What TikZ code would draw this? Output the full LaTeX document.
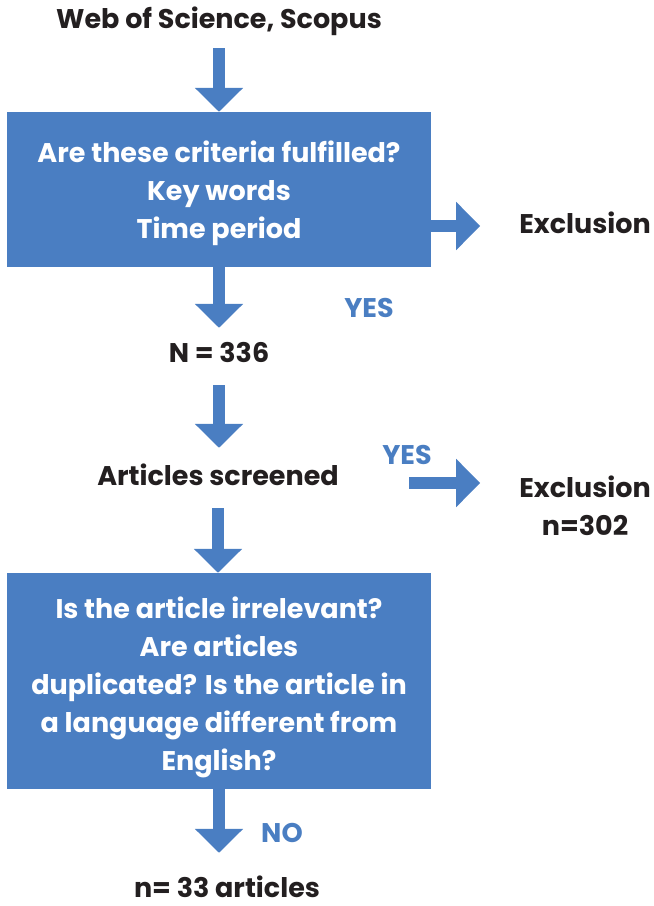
\documentclass[tikz,border=0pt]{standalone}
\usepackage{fontspec}
\setmainfont{Poppins}
\usetikzlibrary{arrows.meta}

\definecolor{flowblue}{HTML}{4A7EC2}
\definecolor{ink}{HTML}{231F20}

\tikzset{
  lbl/.style={font=\fontsize{27}{38}\selectfont\bfseries, text=ink, inner sep=0pt,
    text height=20pt, text depth=6pt, align=center},
  answer/.style={lbl, text=flowblue},
  critbox/.style={fill=flowblue, text=white, font=\fontsize{27}{38}\selectfont\bfseries,
    minimum width=424pt, inner sep=0pt, align=center},
  blockarrow/.style={draw=flowblue, line width=12pt,
    -{Triangle[length=24pt, width=47pt]}},
}

\begin{document}
\begin{tikzpicture}[x=1pt, y=-1pt]
      \useasboundingbox (0, 0) rectangle (654, 906);

      \node[lbl] (source) at (219, 21) {Web of Science, Scopus};
      \node[critbox, minimum height=155pt] (crit) at (219, 189.5)
        {\rule{0pt}{29pt}Are these criteria fulfilled?\\Key words\\Time period};
      \node[lbl] (excl1) at (585, 226) {Exclusion};
      \node[answer] (yes1) at (369, 310) {YES};
      \node[lbl] (n336) at (219, 355) {N = 336};
      \node[lbl] (screened) at (218, 478) {Articles screened};
      \node[answer] (yes2) at (407, 457) {YES};
      % last line sets the baseline of a two-line node
      \node[lbl] (excl2) at (585, 528) {Exclusion\\n=302};
      \node[critbox, minimum height=216pt] (irrel) at (219, 681)
        {\rule{0pt}{34pt}Is the article irrelevant?\\Are articles\\duplicated? Is the article in\\a language different from\\English?};
      \node[answer] (no) at (282, 835) {NO};
      \node[lbl] (final) at (227, 890) {n= 33 articles};

      \coordinate (tail2) at (409, 483);

      \draw[blockarrow, shorten <=14pt] (source.south) -- (crit.north);
      \draw[blockarrow, shorten >=14pt] (crit.south) -- (crit.south |- n336.north);
      \draw[blockarrow, shorten <=17pt, shorten >=17pt] (n336.south) -- (n336.south |- screened.north);
      \draw[blockarrow, shorten <=17pt] (screened.south) -- (screened.south |- irrel.north);
      \draw[blockarrow, shorten >=24pt] (irrel.south) -- (irrel.south |- final.north);
      \draw[blockarrow, shorten >=39pt] (crit.east |- excl1) -- (excl1.west);
      \draw[blockarrow, shorten >=39pt] (tail2) -- (tail2 -| excl2.west);
    \end{tikzpicture}
\end{document}
